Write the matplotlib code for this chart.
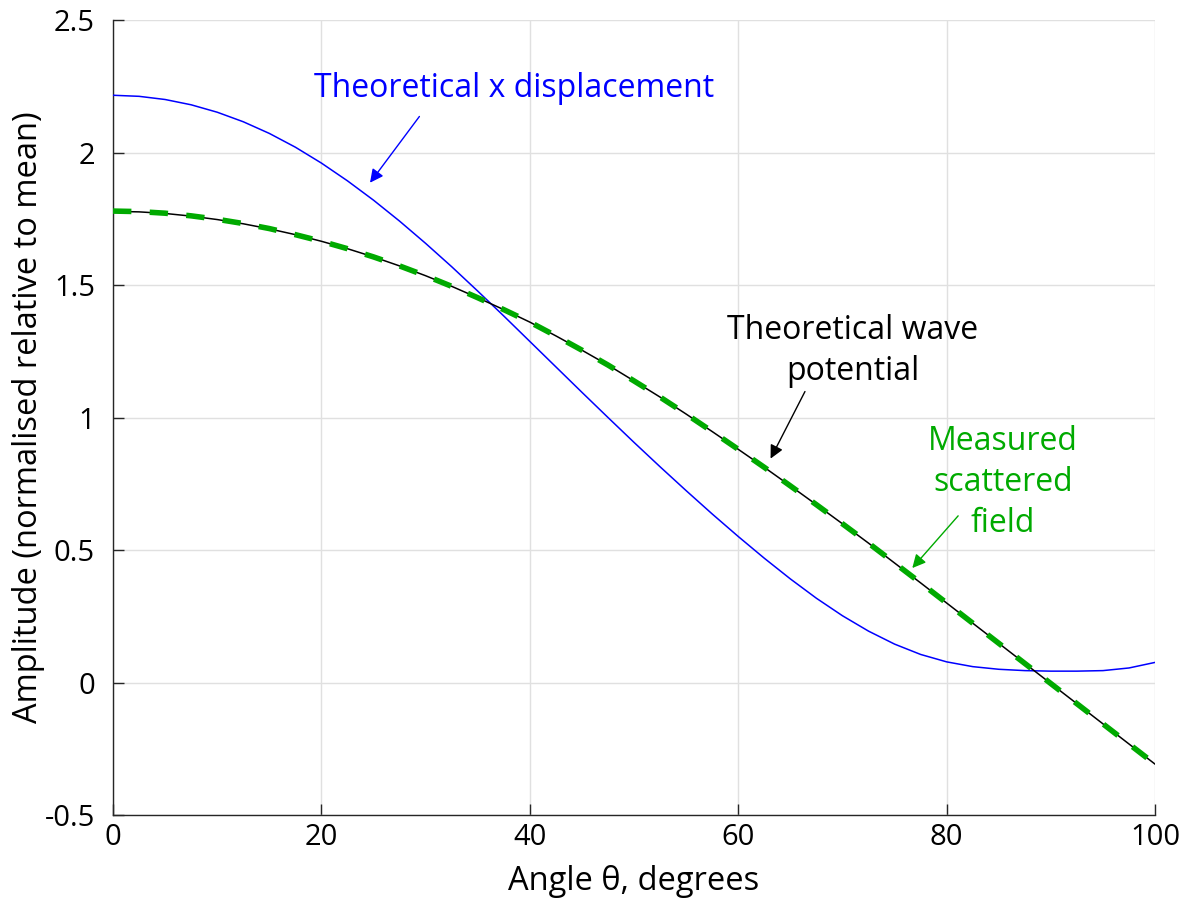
import numpy as np
import matplotlib
matplotlib.use("Agg")
import matplotlib.pyplot as plt

plt.rcParams['font.family'] = ['Open Sans', 'DejaVu Sans']

# angles in degrees (2.5 degree steps)
angle = np.arange(0, 100.1, 2.5)

# Theoretical x displacement (blue)
x_disp = [
    2.216, 2.212, 2.200, 2.180, 2.152, 2.116, 2.072, 2.020, 1.960, 1.893,
    1.820, 1.741, 1.657, 1.569, 1.477, 1.383, 1.287, 1.191, 1.095, 1.000,
    0.906, 0.814, 0.724, 0.636, 0.551, 0.469, 0.391, 0.318, 0.252, 0.194,
    0.145, 0.106, 0.078, 0.060, 0.050, 0.045, 0.043, 0.043, 0.045, 0.055,
    0.076
]

# Theoretical wave potential (black)
wave_pot = [
    1.778, 1.776, 1.770, 1.760, 1.747, 1.731, 1.712, 1.690, 1.665, 1.637,
    1.606, 1.572, 1.535, 1.495, 1.452, 1.407, 1.360, 1.308, 1.254, 1.198,
    1.138, 1.077, 1.013, 0.947, 0.880, 0.812, 0.742, 0.671, 0.599, 0.526,
    0.451, 0.376, 0.300, 0.224, 0.148, 0.072, -0.004, -0.080, -0.156, -0.232,
    -0.308
]

# Measured scattered field (green dashed)
measured = [
    1.779, 1.777, 1.771, 1.761, 1.748, 1.732, 1.713, 1.690, 1.665, 1.637,
    1.606, 1.572, 1.535, 1.495, 1.452, 1.407, 1.360, 1.308, 1.254, 1.198,
    1.138, 1.077, 1.013, 0.947, 0.880, 0.812, 0.742, 0.671, 0.599, 0.526,
    0.451, 0.376, 0.300, 0.224, 0.148, 0.072, -0.004, -0.080, -0.156, -0.232,
    -0.308
]

blue = '#0000ff'
green = '#00aa00'

fig = plt.figure(figsize=(11.95, 9.01), dpi=100)
ax = fig.add_axes([0.0946, 0.0954, 0.872, 0.8824])

ax.plot(angle, x_disp, color=blue, lw=1.1, zorder=3)
ax.plot(angle, wave_pot, color='black', lw=1.1, zorder=3)
ax.plot(angle, measured, color=green, lw=4.0, dashes=(3.3, 3.3), zorder=4)

ax.set_xlim(0, 100)
ax.set_ylim(-0.5, 2.5)
ax.set_xticks([0, 20, 40, 60, 80, 100])
ax.set_yticks([-0.5, 0, 0.5, 1, 1.5, 2, 2.5])
ax.set_yticklabels(['-0.5', '0', '0.5', '1', '1.5', '2', '2.5'])
ax.grid(True, color='#e0e0e0', lw=1.0)
ax.set_axisbelow(True)

for s in ['top', 'right']:
    ax.spines[s].set_visible(False)
for s in ['left', 'bottom']:
    ax.spines[s].set_color('#262626')
    ax.spines[s].set_linewidth(1.0)
ax.tick_params(direction='in', length=8, width=1.0, color='#262626',
               labelsize=21)
ax.tick_params(axis='y', pad=13)
ax.tick_params(axis='x', pad=6)

ax.set_xlabel('Angle θ, degrees', fontsize=23.5, labelpad=9)
ax.set_ylabel('Amplitude (normalised relative to mean)', fontsize=23.5, labelpad=0)

arrow = dict(arrowstyle='-|>', lw=1.0, mutation_scale=20, shrinkA=0, shrinkB=0)

ax.annotate('', xy=(24.66, 1.886), xytext=(29.4, 2.136),
            arrowprops=dict(arrow, color=blue))
ax.text(38.5, 2.24, 'Theoretical x displacement', color=blue, fontsize=23,
        ha='center', va='center')

ax.annotate('', xy=(63.1, 0.845), xytext=(66.4, 1.098),
            arrowprops=dict(arrow, color='black'))
ax.text(71.0, 1.25, 'Theoretical wave\npotential', color='black', fontsize=23,
        ha='center', va='center', linespacing=1.33)

ax.annotate('', xy=(76.7, 0.432), xytext=(81.1, 0.629),
            arrowprops=dict(arrow, color=green))
ax.text(85.4, 0.754, 'Measured\nscattered\nfield', color=green, fontsize=23,
        ha='center', va='center', linespacing=1.33)

plt.savefig('out.png', dpi=100)
